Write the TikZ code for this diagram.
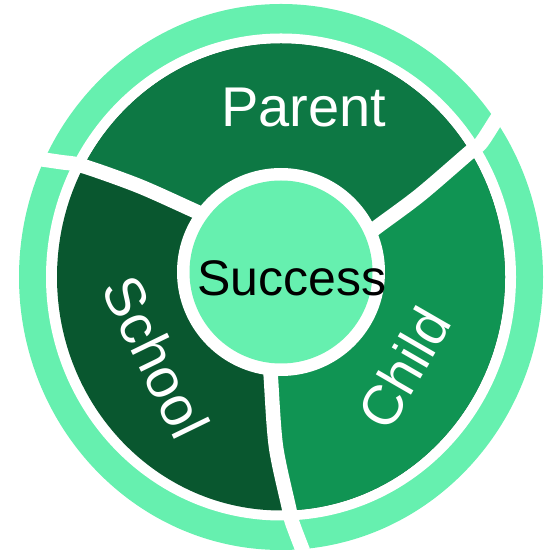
\documentclass[tikz,border=0pt]{standalone}
\usepackage{fontspec}
\setmainfont{Liberation Sans}

\definecolor{parentgreen}{RGB}{13,120,68}
\definecolor{schoolgreen}{RGB}{9,87,47}
\definecolor{childgreen}{RGB}{16,148,83}
\definecolor{lightgreen}{RGB}{102,240,175}

\begin{document}
\begin{tikzpicture}[x=1pt,y=1pt,
  divider/.style={white,line width=14.5pt},
  partlabel/.style={white,inner sep=0pt,font=\fontsize{56}{60}\selectfont}]

\useasboundingbox (0,0) rectangle (543,551);

% The outer ring
\fill[lightgreen] (281,274) ellipse [x radius=262, y radius=273];
\fill[white] (281,274) ellipse [x radius=235, y radius=243.5];

% The three parts
\fill[schoolgreen] (281,274) ellipse [x radius=224, y radius=233.5];
\begin{scope}
	\clip (281,274) ellipse [x radius=224, y radius=233.5];
	\fill[parentgreen] (281,279) -- plot[smooth] coordinates {(213,332) (195,340) (139,365) (83,385) (60,389) (25,394)}
		-- (0,551) -- (543,551)
		-- plot[smooth] coordinates {(515,462) (505,445) (496,431) (481,408) (470,399) (420,356) (377,324) (360,311)} -- cycle;
	\fill[childgreen] (281,279) -- plot[smooth] coordinates {(360,311) (377,324) (420,356) (470,399) (481,408) (496,431) (505,445) (515,462)}
		-- (543,551) -- (543,0)
		-- plot[smooth] coordinates {(303,0) (292,29) (289,43) (276,104) (271,171) (270,190)} -- cycle;
\end{scope}

% The white dividers, also through the ring
\draw[divider] plot[smooth] coordinates {(213,332) (195,340) (139,365) (83,385) (60,389) (25,394)};
\draw[divider] plot[smooth] coordinates {(360,311) (377,324) (420,356) (470,399) (481,408) (496,431) (505,445) (515,462)};
\draw[divider] plot[smooth] coordinates {(270,190) (271,171) (276,104) (289,43) (292,29) (303,0)};

% The centre
\fill[white] (281,279) circle (104);
\fill[lightgreen] (281,279) circle (91.5);

% The texts
\node[partlabel] (parent) at (304,443) {Parent};
\node[partlabel,rotate=-64] (school) at (156,194) {School};
\node[partlabel,rotate=60] (child) at (404,183) {Child};
\node[inner sep=0pt,font=\fontsize{50}{54}\selectfont] (success) at (292,273) {Success};

\end{tikzpicture}
\end{document}
